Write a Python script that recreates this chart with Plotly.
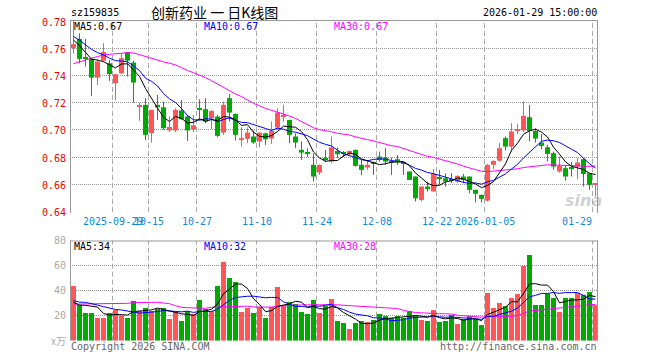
import plotly.graph_objects as go

# ---------------- data ----------------
label_idx = [7, 13, 21, 31, 41, 51, 61, 69, 87]
label_text = ["2025-09-29", "10-15", "10-27", "11-10", "11-24", "12-08", "12-22", "2026-01-05", "01-29"]

opens = [0.760, 0.7669, 0.7533, 0.7522, 0.7384, 0.7509, 0.749, 0.7343, 0.7416, 0.7571,
         0.7495, 0.7172, 0.7184, 0.6975, 0.7184, 0.7166, 0.6996, 0.6996, 0.7142, 0.7098,
         0.7004, 0.7155, 0.7152, 0.7086, 0.7098, 0.698, 0.7233, 0.7117, 0.6934, 0.6934,
         0.6951, 0.6914, 0.6975, 0.6936, 0.7017, 0.7103, 0.7073, 0.6951, 0.6853, 0.6830,
         0.6743, 0.6686, 0.6785, 0.6767, 0.6845, 0.6828, 0.6821, 0.6853, 0.6743, 0.6723,
         0.6762, 0.6804, 0.6796, 0.6769, 0.6784, 0.6762, 0.6694, 0.6657, 0.6485, 0.6583,
         0.6547, 0.6646, 0.6644, 0.6633, 0.662, 0.6657, 0.6657, 0.6559, 0.6522, 0.648,
         0.6743, 0.6774, 0.6939, 0.6877, 0.7000, 0.6996, 0.7093, 0.6992, 0.6907, 0.6872,
         0.6828, 0.6694, 0.6718, 0.6720, 0.673, 0.6784, 0.6681, 0.6596]
highs = [0.782, 0.771, 0.7669, 0.7525, 0.752, 0.7637, 0.7514, 0.741, 0.7563, 0.7573,
         0.7509, 0.720, 0.7233, 0.7148, 0.7257, 0.7208, 0.7098, 0.7159, 0.722, 0.711,
         0.711, 0.7225, 0.7233, 0.7142, 0.711, 0.7208, 0.7264, 0.712, 0.7019, 0.7019,
         0.6995, 0.698, 0.698, 0.7061, 0.7159, 0.7184, 0.7075, 0.6975, 0.6914, 0.6865,
         0.6828, 0.6745, 0.6853, 0.6951, 0.687, 0.6845, 0.6848, 0.6855, 0.6779, 0.6779,
         0.6767, 0.684, 0.6865, 0.6796, 0.6816, 0.6767, 0.6695, 0.6657, 0.6585, 0.662,
         0.6711, 0.6706, 0.6681, 0.6681, 0.6664, 0.6676, 0.6657, 0.656, 0.6524, 0.675,
         0.6775, 0.6902, 0.6951, 0.7049, 0.7044, 0.7208, 0.7184, 0.7012, 0.697, 0.689,
         0.684, 0.6804, 0.6735, 0.6765, 0.6792, 0.6792, 0.6682, 0.661]
lows = [0.756, 0.749, 0.7465, 0.725, 0.733, 0.7505, 0.736, 0.722, 0.741, 0.7392,
        0.720, 0.7066, 0.6926, 0.6907, 0.7073, 0.700, 0.6985, 0.6984, 0.7073, 0.6919,
        0.6984, 0.7073, 0.7049, 0.7007, 0.6946, 0.6963, 0.7061, 0.6921, 0.6877, 0.6902,
        0.6897, 0.6872, 0.689, 0.6897, 0.700, 0.7061, 0.6902, 0.6865, 0.6779, 0.680,
        0.662, 0.6669, 0.6767, 0.6755, 0.6792, 0.680, 0.6804, 0.673, 0.6669, 0.6706,
        0.6669, 0.6767, 0.6743, 0.6669, 0.6743, 0.6669, 0.663, 0.6473, 0.6473, 0.6547,
        0.6545, 0.6596, 0.6583, 0.6608, 0.6608, 0.6608, 0.6534, 0.6466, 0.6466, 0.6473,
        0.6711, 0.6767, 0.6848, 0.684, 0.697, 0.6984, 0.6914, 0.6907, 0.6858, 0.6767,
        0.6706, 0.6686, 0.6627, 0.6657, 0.6637, 0.6583, 0.6559, 0.651]
closes = [0.763, 0.7522, 0.7526, 0.7384, 0.7502, 0.7573, 0.7411, 0.7409, 0.7527, 0.7509,
          0.7348, 0.7176, 0.6963, 0.7147, 0.7166, 0.7012, 0.7021, 0.7147, 0.7078, 0.6996,
          0.7033, 0.7150, 0.7061, 0.714, 0.6956, 0.7184, 0.7127, 0.6963, 0.6937, 0.698,
          0.6907, 0.698, 0.6931, 0.6992, 0.7127, 0.7107, 0.6963, 0.6907, 0.6833, 0.6826,
          0.6657, 0.6743, 0.6782, 0.687, 0.6821, 0.6826, 0.6845, 0.6735, 0.6706, 0.6743,
          0.6758, 0.6779, 0.6767, 0.6765, 0.676, 0.6758, 0.6632, 0.6497, 0.6583, 0.6564,
          0.6676, 0.6642, 0.662, 0.6630, 0.6662, 0.6632, 0.6559, 0.653, 0.6493, 0.6743,
          0.6772, 0.6865, 0.6877, 0.6988, 0.7005, 0.7103, 0.6992, 0.6936, 0.6882, 0.6823,
          0.673, 0.6735, 0.6657, 0.6716, 0.676, 0.6676, 0.6596, 0.6608]
volumes = [43.7, 28.5, 22.1, 22.1, 18.1, 18.1, 22.1, 24.5, 20.0, 18.1,
           31.7, 23.7, 26.1, 23.7, 25.3, 26.1, 17.3, 23.2, 15.7, 23.7,
           21.3, 32.5, 25.3, 23.7, 43.7, 62.9, 50.1, 46.9, 22.9, 26.1,
           22.1, 26.9, 18.1, 26.9, 42.9, 28.0, 30.9, 29.3, 22.9, 21.3,
           32.5, 22.1, 27.7, 33.3, 15.7, 14.1, 9.3, 14.1, 15.7, 14.9,
           16.5, 21.3, 19.7, 18.1, 19.7, 18.1, 23.5, 20.5, 16.5, 15.7,
           24.5, 14.9, 15.7, 20.5, 13.3, 17.3, 19.7, 17.3, 12.5, 38.1,
           26.1, 30.1, 27.7, 34.1, 37.3, 59.7, 68.5, 28.5, 28.5, 37.3,
           34.1, 22.9, 34.1, 34.1, 38.1, 36.5, 38.9, 28.5]

# moving-average values at the start of the window (history before the window is not shown)
ma5_head = [0.766, 0.762, 0.757, 0.752]
ma10_head = [0.7686, 0.7661, 0.7625, 0.7593, 0.7568, 0.7551, 0.7527, 0.7509, 0.7507]
ma30_head = [0.7487, 0.7502, 0.7514, 0.7527, 0.7539, 0.7551, 0.7556, 0.7558, 0.7563, 0.7568,
             0.7566, 0.7553, 0.7539, 0.7524, 0.7514, 0.75, 0.749, 0.7478, 0.7458, 0.7436,
             0.7421, 0.7404, 0.7384, 0.7362, 0.7338, 0.7313, 0.7286, 0.7264, 0.7245]
vma5_head = [30.7, 28.5, 28.3, 27.7]
vma10_head = [32.0, 30.9, 30.7, 29.9, 28.5, 27.2, 25.9, 25.0, 24.6]
vma30_head = [29.3, 29.3, 29.6, 29.6, 29.6, 29.6, 29.9, 29.9, 29.9, 29.9,
              30.4, 30.7, 30.7, 30.7, 30.7, 30.1, 29.6, 28.0, 26.7, 26.4,
              26.1, 25.9, 25.9, 26.7, 27.2, 27.2, 27.2, 27.2, 27.2]

price_ticks = [0.78, 0.76, 0.74, 0.72, 0.70, 0.68, 0.66, 0.64]
vol_ticks = [80, 60, 40, 20]


def moving_avg(values, n, head):
    out = list(head)
    for i in range(len(head), len(values)):
        out.append(sum(values[i - n + 1:i + 1]) / n)
    return out


ma5 = moving_avg(closes, 5, ma5_head)
ma10 = moving_avg(closes, 10, ma10_head)
ma30 = moving_avg(closes, 30, ma30_head)
vma5 = moving_avg(volumes, 5, vma5_head)
vma10 = moving_avg(volumes, 10, vma10_head)
vma30 = moving_avg(volumes, 30, vma30_head)

# ---------------- layout constants ----------------
W, H = 660, 360
L, R = 70, 598
MT, MB = 20, 212
VT, VB = 240.7, 340.7
RED = "#ff5555"
GREEN = "#00aa00"
MONO = "DejaVu Sans Mono"


def py(y):
    return 1 - y / H


def pxl(x):
    return x / W


n = len(closes)
idx = list(range(n))
up = [c >= o for o, c in zip(opens, closes)]
colors = [RED if u else GREEN for u in up]

min_h = 0.0008
body_base, body_h = [], []
for o, c in zip(opens, closes):
    h = abs(c - o)
    b = min(o, c)
    if h < min_h:
        b -= (min_h - h) / 2
        h = min_h
    body_base.append(b)
    body_h.append(h)

wx = {True: [], False: []}
wy = {True: [], False: []}
for i in range(n):
    wx[up[i]] += [i, i, None]
    wy[up[i]] += [lows[i], highs[i], None]

fig = go.Figure()
for u, col in ((True, RED), (False, GREEN)):
    fig.add_trace(go.Scatter(x=wx[u], y=wy[u], mode="lines", line=dict(color=col, width=1),
                             xaxis="x", yaxis="y", hoverinfo="skip"))
fig.add_trace(go.Bar(x=idx, y=body_h, base=body_base, width=5 / 6,
                     marker=dict(color=colors, line=dict(width=0)), xaxis="x", yaxis="y"))
for vals, col in ((ma30, "#ff00ff"), (ma10, "#0000ff"), (ma5, "#000000")):
    fig.add_trace(go.Scatter(x=idx, y=vals, mode="lines", line=dict(color=col, width=1),
                             xaxis="x", yaxis="y", hoverinfo="skip"))

fig.add_trace(go.Bar(x=idx, y=volumes, width=5 / 6,
                     marker=dict(color=colors, line=dict(width=0)), xaxis="x2", yaxis="y2"))
for vals, col in ((vma30, "#ff00ff"), (vma10, "#0000ff"), (vma5, "#000000")):
    fig.add_trace(go.Scatter(x=idx, y=vals, mode="lines", line=dict(color=col, width=1),
                             xaxis="x2", yaxis="y2", hoverinfo="skip"))

xr = [-0.5 - 0.5 / 6, n - 0.5 - 0.5 / 6]
axis_common = dict(showticklabels=False, zeroline=False, showline=False, ticks="")
fig.update_layout(
    width=W, height=H, margin=dict(l=0, r=0, t=0, b=0),
    paper_bgcolor="white", plot_bgcolor="white", showlegend=False, barmode="overlay",
    xaxis=dict(domain=[L / W, R / W], range=xr, showgrid=False, anchor="y", **axis_common),
    yaxis=dict(domain=[py(MB), py(MT)], range=[0.6396, 0.7808], anchor="x",
               tickvals=[0.66, 0.68, 0.70, 0.72, 0.74, 0.76], showgrid=True,
               gridcolor="#999999", griddash="1px,1px", gridwidth=1, **axis_common),
    xaxis2=dict(domain=[L / W, R / W], range=xr, showgrid=False, anchor="y2", **axis_common),
    yaxis2=dict(domain=[py(VB), py(VT)], range=[0, 80], anchor="x2",
                tickvals=[20, 40, 60], showgrid=True,
                gridcolor="#999999", griddash="1px,1px", gridwidth=1, **axis_common),
)

shapes = []
for k in label_idx:
    shapes.append(dict(type="line", xref="x", yref="paper", x0=k - 0.5, x1=k - 0.5,
                       y0=py(MB), y1=py(MT), line=dict(color="#aaaaaa", width=1, dash="5px,3px"),
                       layer="below"))
    shapes.append(dict(type="line", xref="x2", yref="paper", x0=k - 0.5, x1=k - 0.5,
                       y0=py(VB), y1=py(VT), line=dict(color="#aaaaaa", width=1, dash="5px,3px"),
                       layer="below"))
border = dict(color="#999999", width=1)
for top, bot in ((MT, MB + 1), (VT - 0.2, VB)):
    yt = top + 0.5
    shapes.append(dict(type="line", xref="paper", yref="paper", x0=pxl(L), x1=pxl(R),
                       y0=py(yt), y1=py(yt), line=border))
    shapes.append(dict(type="line", xref="paper", yref="paper", x0=pxl(L + 0.5), x1=pxl(L + 0.5),
                       y0=py(top), y1=py(bot), line=border))
    shapes.append(dict(type="line", xref="paper", yref="paper", x0=pxl(R - 0.5), x1=pxl(R - 0.5),
                       y0=py(top), y1=py(bot), line=border))
fig.update_layout(shapes=shapes)

ann = []


def text(x, y, s, color="#000000", size=10, anchor="left", family=MONO, yref="paper", xref="paper"):
    ann.append(dict(x=x, y=y, xref=xref, yref=yref, text=s, showarrow=False,
                    xanchor=anchor, yanchor="middle", borderpad=0,
                    font=dict(family=family, size=size, color=color)))


text(pxl(70), py(13), "sz159835")
text(pxl(150), py(12), "创新药业 一 日K线图", size=14, family="Noto Sans CJK SC")
text(pxl(598), py(13), "2026-01-29 15:00:00", anchor="right")
text(pxl(73), py(26.5), "MA5:0.67", "#000000")
text(pxl(203), py(26.5), "MA10:0.67", "#0000ff")
text(pxl(333), py(26.5), "MA30:0.67", "#ff00ff")
text(pxl(73), py(246.5), "MA5:34", "#000000")
text(pxl(203), py(246.5), "MA10:32", "#0000ff")
text(pxl(333), py(246.5), "MA30:28", "#ff00ff")
for v in price_ticks:
    ann.append(dict(x=pxl(67), y=v, xref="paper", yref="y", text=f"{v:.2f}", showarrow=False,
                    xanchor="right", yanchor="middle", yshift=-1, borderpad=0,
                    font=dict(family=MONO, size=10, color="#ee0000")))
for v in vol_ticks:
    ann.append(dict(x=pxl(67), y=v, xref="paper", yref="y2", text=str(v), showarrow=False,
                    xanchor="right", yanchor="middle", borderpad=0,
                    font=dict(family=MONO, size=10, color="#aaaaaa")))
text(pxl(67), py(340), "x万", "#aaaaaa", anchor="right", family="Noto Sans CJK SC", size=10)
for k, s in zip(label_idx, label_text):
    ann.append(dict(x=k - 0.5, y=py(221.5), xref="x", yref="paper", text=s, showarrow=False,
                    xanchor="right" if k == n - 1 else "center", yanchor="middle", borderpad=0,
                    font=dict(family=MONO, size=10, color="#1088d8")))
text(pxl(70), py(346), "Copyright 2026 SINA.COM", "#666666")
text(pxl(598), py(346), "http://finance.sina.com.cn", "#666666", anchor="right")
text(pxl(583), py(200), "<b><i>sina</i></b>", "rgba(150,150,150,0.45)", anchor="center",
     family="DejaVu Sans", size=16)
fig.update_layout(annotations=ann)

fig.write_html("out.html", config={"displayModeBar": False},
               post_script="document.body.style.margin='0';document.body.style.padding='0';")
